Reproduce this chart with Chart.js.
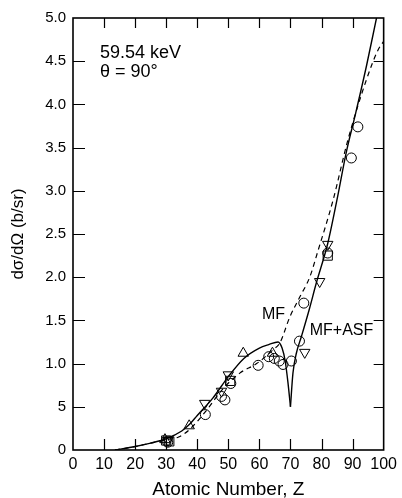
<!DOCTYPE html>
<html><head><meta charset="utf-8">
<script src="https://cdn.jsdelivr.net/npm/chart.js@4/dist/chart.umd.min.js"></script>
<style>html,body{margin:0;padding:0;background:#fff}canvas{display:block}</style>
</head><body>
<canvas id="c" width="402" height="498" style="width:402px;height:498px"></canvas>
<script>
// ---- tick labels ----
const xTickValues = [0,10,20,30,40,50,60,70,80,90,100];
const yTickLabels = ['0','5','1.0','1.5','2.0','2.5','3.0','3.5','4.0','4.5','5.0'];

// ---- MF+ASF theory (solid), split at the Z=70 cusp ----
const mfasfLeftZ = [13.5,20,25,30,35,37.6,40,45,50,55,60,63,66,67.3,68.3,69.2,70];
const mfasfLeftV = [0,0.04,0.08,0.13,0.22,0.30,0.40,0.60,0.85,1.06,1.18,1.22,1.25,1.18,1.03,0.78,0.5];
const mfasfRightZ = [70,70.8,71.9,73.5,76,78.3,82,85,88,91,94.5,97.7];
const mfasfRightV = [0.5,0.89,1.12,1.31,1.62,1.93,2.39,2.90,3.45,3.90,4.45,5.0];

// ---- MF theory (dashed) ----
const mfZ = [13.5,20,25,30,34,37.6,43,48.3,53.7,59.1,64.4,66.6,69.8,73,76.2,78.9,83.7,88.5,94.4,98.2,100];
const mfV = [0,0.04,0.08,0.12,0.15,0.24,0.46,0.71,0.89,1.0,1.16,1.24,1.54,1.77,2.0,2.31,2.89,3.59,4.28,4.63,4.73];

// ---- measured points ----
const circleZ = [30.5,42.6,47.8,48.9,50.8,59.6,63.0,64.8,66.4,67.6,70.3,72.9,74.3,82,89.6,91.7];
const circleV = [0.09,0.41,0.62,0.58,0.77,0.98,1.08,1.06,1.03,0.99,1.03,1.26,1.70,2.28,3.38,3.74];
const triUpZ = [29.6,37.4,54.8,64.2];
const triUpV = [0.12,0.28,1.12,1.12];
const triDownZ = [30.6,42.4,47.8,50.0,74.6,79.4,82];
const triDownV = [0.11,0.54,0.68,0.87,1.13,1.95,2.38];
const squareZ = [30.0,31.0,50.6,82];
const squareV = [0.11,0.10,0.80,2.25];

const pts = (zs, vs) => zs.map((z, i) => ({x: z, y: vs[i]}));

Chart.defaults.font.family = '"Liberation Sans", Arial, Helvetica, sans-serif';
Chart.defaults.color = '#000';

const framePlugin = {
  id: 'frame',
  afterDatasetsDraw(chart) {
    const {ctx, chartArea: a, scales: {x, y}} = chart;
    ctx.save();
    ctx.strokeStyle = '#000';
    ctx.lineWidth = 1.6;
    ctx.strokeRect(a.left, a.top, a.right - a.left, a.bottom - a.top);
    ctx.lineWidth = 1.2;
    ctx.beginPath();
    x.ticks.forEach(t => {
      if (t.value <= x.min || t.value >= x.max) return;
      const px = Math.round(x.getPixelForValue(t.value)) + 0.5;
      ctx.moveTo(px, a.bottom); ctx.lineTo(px, a.bottom - 11);
      ctx.moveTo(px, a.top); ctx.lineTo(px, a.top + 10);
    });
    y.ticks.forEach(t => {
      if (t.value <= y.min || t.value >= y.max) return;
      const py = Math.round(y.getPixelForValue(t.value)) + 0.5;
      ctx.moveTo(a.left, py); ctx.lineTo(a.left + 12, py);
      ctx.moveTo(a.right, py); ctx.lineTo(a.right - 10, py);
    });
    ctx.stroke();
    ctx.restore();
  }
};

const labelPlugin = {
  id: 'labels',
  afterDatasetsDraw(chart, args, opts) {
    const {ctx, scales: {x, y}} = chart;
    ctx.save();
    ctx.fillStyle = '#000';
    ctx.textBaseline = 'middle';
    ctx.textAlign = 'left';
    opts.items.forEach(it => {
      ctx.font = it.size + 'px "Liberation Sans", Arial, sans-serif';
      ctx.fillText(it.text, x.getPixelForValue(it.z), y.getPixelForValue(it.v));
    });
    ctx.restore();
  }
};

const markerCommon = {
  showLine: false,
  borderColor: '#000',
  backgroundColor: 'rgba(0,0,0,0)',
  pointBorderColor: '#000',
  pointBackgroundColor: 'rgba(0,0,0,0)',
  pointBorderWidth: 1,
};

new Chart(document.getElementById('c'), {
  type: 'scatter',
  data: {
    datasets: [
      {label: 'MF+ASF', data: pts(mfasfLeftZ, mfasfLeftV), showLine: true, borderColor: '#000', borderWidth: 1.4, pointRadius: 0, cubicInterpolationMode: 'monotone', fill: false},
      {label: 'MF+ASF b', data: pts(mfasfRightZ, mfasfRightV), showLine: true, borderColor: '#000', borderWidth: 1.4, pointRadius: 0, cubicInterpolationMode: 'monotone', fill: false},
      {label: 'MF', data: pts(mfZ, mfV), showLine: true, borderColor: '#000', borderWidth: 1.2, borderDash: [5, 4], pointRadius: 0, cubicInterpolationMode: 'monotone', fill: false},
      Object.assign({label: 'circles', data: pts(circleZ, circleV), pointStyle: 'circle', pointRadius: 5}, markerCommon),
      Object.assign({label: 'triangles', data: pts(triUpZ, triUpV), pointStyle: 'triangle', pointRadius: 6}, markerCommon),
      Object.assign({label: 'inverted triangles', data: pts(triDownZ, triDownV), pointStyle: 'triangle', pointRotation: 180, pointRadius: 6}, markerCommon),
      Object.assign({label: 'squares', data: pts(squareZ, squareV), pointStyle: 'rect', pointRadius: 6.5}, markerCommon),
    ]
  },
  options: {
    responsive: false,
    animation: false,
    devicePixelRatio: 1,
    layout: {padding: {left: 0, top: 18, right: 18, bottom: 0}},
    plugins: {
      legend: {display: false},
      tooltip: {enabled: false},
      labels: {items: [
        {text: '59.54 keV', z: 8.7, v: 4.60, size: 18},
        {text: 'θ = 90°', z: 8.7, v: 4.37, size: 18},
        {text: 'MF', z: 60.8, v: 1.57, size: 16},
        {text: 'MF+ASF', z: 76.2, v: 1.38, size: 16},
      ]}
    },
    scales: {
      x: {
        type: 'linear', min: 0, max: 100,
        afterBuildTicks: s => { s.ticks = xTickValues.map(v => ({value: v})); },
        ticks: {font: {size: 16}, padding: 5, maxRotation: 0, autoSkip: false},
        grid: {display: false, drawTicks: false},
        border: {display: false},
        title: {display: true, text: 'Atomic Number, Z', font: {size: 19, lineHeight: 1}, padding: {top: 2, bottom: -1}},
        afterFit: s => { s.height = 48; }
      },
      y: {
        type: 'linear', min: 0, max: 5,
        ticks: {stepSize: 0.5, font: {size: 15}, padding: 7, autoSkip: false,
                callback: (v, i) => yTickLabels[i]},
        grid: {display: false, drawTicks: false},
        border: {display: false},
        title: {display: true, text: 'dσ/dΩ (b/sr)', font: {size: 17}, padding: {top: 8, bottom: 4}},
        afterFit: s => { s.width = 73; }
      }
    }
  },
  plugins: [framePlugin, labelPlugin]
});
</script>
</body></html>
